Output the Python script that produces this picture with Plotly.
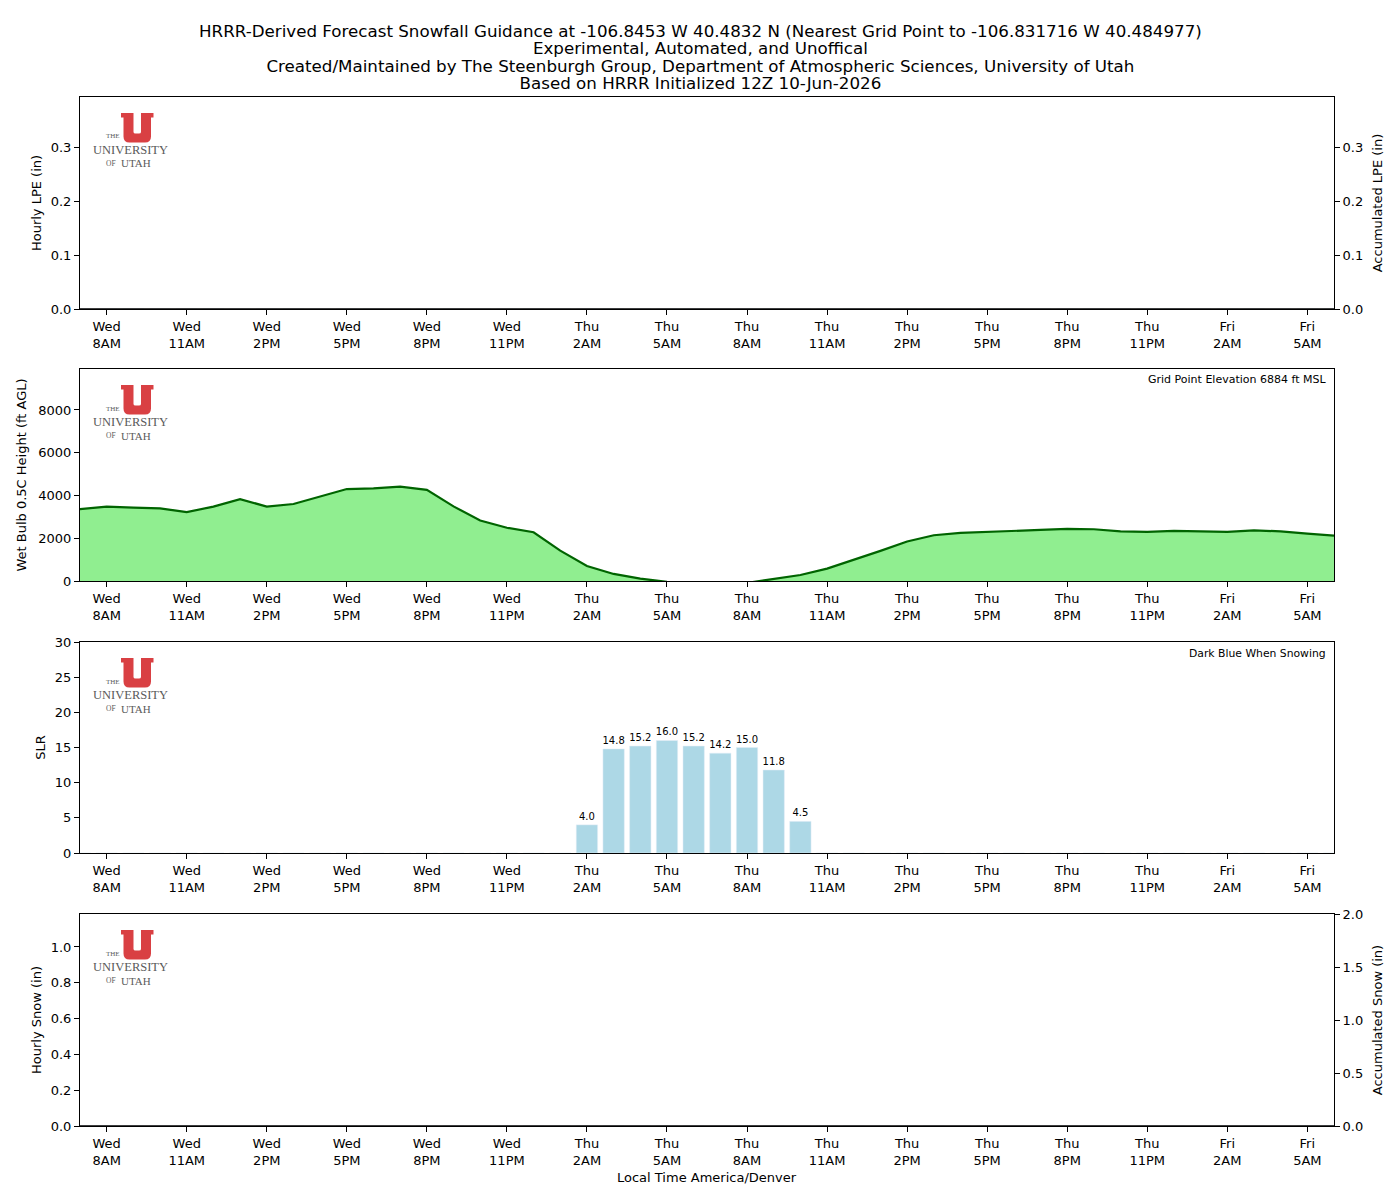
import pandas as pd
import plotly.graph_objects as go

# ---------------- data ----------------
times = pd.date_range("2026-06-10 07:00", periods=48, freq="h")
tick_times = times[1::3]
tick_labels = ["Wed<br>8AM", "Wed<br>11AM", "Wed<br>2PM", "Wed<br>5PM", "Wed<br>8PM", "Wed<br>11PM",
               "Thu<br>2AM", "Thu<br>5AM", "Thu<br>8AM", "Thu<br>11AM", "Thu<br>2PM", "Thu<br>5PM",
               "Thu<br>8PM", "Thu<br>11PM", "Fri<br>2AM", "Fri<br>5AM"]

hourly_lpe = [0.0] * 48
accum_lpe = [0.0] * 48

wetbulb_height = [3360, 3480, 3430, 3400, 3220, 3480, 3830, 3480, 3600, 3950, 4300, 4330, 4410, 4260, 3490, 2830, 2490,
                  2280, 1420, 700, 330, 110, -40, -150, -150, -90, 80, 280, 580, 990, 1410, 1850, 2140, 2250, 2290,
                  2320, 2390, 2440, 2420, 2320, 2300,
                  2340, 2330, 2300, 2370, 2320, 2220, 2120]

slr = [0, 0, 0, 0, 0, 0, 0, 0, 0, 0, 0, 0, 0, 0, 0, 0, 0,
       0, 0, 4.0, 14.8, 15.2, 16.0, 15.2, 14.2, 15.0, 11.8, 4.5, 0, 0, 0, 0, 0, 0, 0, 0, 0, 0, 0, 0, 0,
       0, 0, 0, 0, 0, 0, 0]

hourly_snow = [0.0] * 48
accum_snow = [0.0] * 48

title_lines = [
    "HRRR-Derived Forecast Snowfall Guidance at -106.8453 W 40.4832 N (Nearest Grid Point to -106.831716 W 40.484977)",
    "Experimental, Automated, and Unoffical",
    "Created/Maintained by The Steenburgh Group, Department of Atmospheric Sciences, University of Utah",
    "Based on HRRR Initialized 12Z 10-Jun-2026",
]

# ---------------- layout helpers ----------------
W, H = 1400, 1200
L, R, T, B = 80, 1334, 97, 1126
FONT = "DejaVu Sans"


def px(x):
    return (x - L) / (R - L)


def py(y):
    return (B - y) / (B - T)


panel_tops = [97, 369, 642, 914]
panel_bots = [309, 581, 853, 1126]

fig = go.Figure()

# Panel 1
fig.add_trace(go.Bar(x=times, y=hourly_lpe, xaxis="x", yaxis="y", marker_color="#1f77b4",
                     width=0.8 * 3600 * 1000, showlegend=False))
fig.add_trace(go.Scatter(x=times, y=accum_lpe, xaxis="x", yaxis="y5", mode="lines",
                         line=dict(color="black", width=1.5), showlegend=False))
# Panel 2
fig.add_trace(go.Scatter(x=times, y=wetbulb_height, xaxis="x2", yaxis="y2", mode="lines",
                         fill="tozeroy", fillcolor="#90ee90",
                         line=dict(color="#006400", width=2.2), showlegend=False))
# Panel 3
fig.add_trace(go.Bar(x=times, y=slr, xaxis="x3", yaxis="y3", marker_color="#add8e6",
                     width=0.8 * 3600 * 1000,
                     text=[f"{v:.1f}" if v > 0 else "" for v in slr], textposition="outside",
                     textfont=dict(size=10, color="black", family=FONT), constraintext="none",
                     cliponaxis=False, showlegend=False))
# Panel 4
fig.add_trace(go.Bar(x=times, y=hourly_snow, xaxis="x4", yaxis="y4", marker_color="#1f77b4",
                     width=0.8 * 3600 * 1000, showlegend=False))
fig.add_trace(go.Scatter(x=times, y=accum_snow, xaxis="x4", yaxis="y6", mode="lines",
                         line=dict(color="black", width=1.5), showlegend=False))

x_range = [times[0], times[-1]]
common_x = dict(range=x_range, tickvals=tick_times, ticktext=tick_labels, ticks="outside", ticklen=5,
                tickcolor="black", showline=True, linecolor="black", linewidth=1, mirror=True,
                showgrid=False, zeroline=False, tickfont=dict(size=13, color="black", family=FONT))
common_y = dict(ticks="outside", ticklen=5, tickcolor="black", showline=True, linecolor="black",
                linewidth=1, showgrid=False, zeroline=False,
                tickfont=dict(size=13, color="black", family=FONT))
ttl = dict(size=13, color="black", family=FONT)

doms = [[py(b), py(t)] for t, b in zip(panel_tops, panel_bots)]

layout = dict(
    width=W, height=H, margin=dict(l=L, r=W - R, t=T, b=H - B),
    paper_bgcolor="white", plot_bgcolor="white", font=dict(family=FONT, color="black"),
    barmode="overlay",
    xaxis=dict(common_x, anchor="y", domain=[0, 1]),
    xaxis2=dict(common_x, anchor="y2", domain=[0, 1]),
    xaxis3=dict(common_x, anchor="y3", domain=[0, 1]),
    xaxis4=dict(common_x, anchor="y4", domain=[0, 1]),
    yaxis=dict(common_y, domain=doms[0], anchor="x", range=[0, 0.393], dtick=0.1, tickformat=".1f",
               mirror=True, title=dict(text="Hourly LPE (in)", font=ttl, standoff=6)),
    yaxis5=dict(common_y, overlaying="y", side="right", anchor="x", range=[0, 0.393], dtick=0.1,
                tickformat=".1f", title=dict(text="Accumulated LPE (in)", font=ttl, standoff=10)),
    yaxis2=dict(common_y, domain=doms[1], anchor="x2", range=[0, 9915], dtick=2000, tickformat="d",
                mirror=True, title=dict(text="Wet Bulb 0.5C Height (ft AGL)", font=ttl, standoff=8)),
    yaxis3=dict(common_y, domain=doms[2], anchor="x3", range=[0, 30], dtick=5, mirror=True,
                title=dict(text="SLR", font=ttl, standoff=6)),
    yaxis4=dict(common_y, domain=doms[3], anchor="x4", range=[0, 1.184], dtick=0.2, tickformat=".1f",
                mirror=True, title=dict(text="Hourly Snow (in)", font=ttl, standoff=6)),
    yaxis6=dict(common_y, overlaying="y4", side="right", anchor="x4", range=[0, 2.0], dtick=0.5,
                tickformat=".1f", title=dict(text="Accumulated Snow (in)", font=ttl, standoff=10)),
)
fig.update_layout(**layout)

annotations = []
# Title: one text block; base size sets the tight line pitch, spans set the glyph size
title_text = "<br>".join(f"<span style='font-size:16.7px'>{t}</span>" for t in title_lines)
annotations.append(dict(text=title_text, xref="paper", yref="paper", x=px(700), y=py(57),
                        xanchor="center", yanchor="middle", align="center", showarrow=False,
                        font=dict(size=13.35, color="black", family=FONT)))
# X axis label
annotations.append(dict(text="Local Time America/Denver", xref="paper", yref="paper", x=px(707), y=py(1177),
                        xanchor="center", yanchor="middle", showarrow=False, font=ttl))
# Panel notes
annotations.append(dict(text="Grid Point Elevation 6884 ft MSL", xref="paper", yref="paper", x=px(1328),
                        y=py(380), xanchor="right", yanchor="middle", showarrow=False,
                        font=dict(size=11, color="black", family=FONT)))
annotations.append(dict(text="Dark Blue When Snowing", xref="paper", yref="paper", x=px(1328),
                        y=py(653), xanchor="right", yanchor="middle", showarrow=False,
                        font=dict(size=10.8, color="black", family=FONT)))

shapes = []
grey = "#5a5a5a"
SERIF = "Liberation Serif"
for top in panel_tops:
    o = top + 16

    def P(x, y):
        return f"{px(x):.5f},{py(o + y):.5f}"

    path = (f"M{P(121, 0)} L{P(133.5, 0)} L{P(133.5, 19)} Q{P(133.5, 20.5)} {P(135.5, 20.5)} "
            f"L{P(139, 20.5)} Q{P(141, 20.5)} {P(141, 19)} L{P(141, 0)} L{P(153.5, 0)} "
            f"L{P(153.5, 4.5)} L{P(151, 4.5)} L{P(151, 23.5)} Q{P(151, 29.5)} {P(145, 29.5)} "
            f"L{P(129.5, 29.5)} Q{P(123.5, 29.5)} {P(123.5, 23.5)} L{P(123.5, 4.5)} L{P(121, 4.5)} Z")
    shapes.append(dict(type="path", path=path, xref="paper", yref="paper",
                       fillcolor="#d94043", line=dict(width=0), layer="above"))
    annotations.append(dict(text="THE", xref="paper", yref="paper", x=px(112.5), y=py(o + 23.5),
                            xanchor="center", yanchor="middle", showarrow=False,
                            font=dict(size=7, color=grey, family=SERIF)))
    annotations.append(dict(text="UNIVERSITY", xref="paper", yref="paper", x=px(130), y=py(o + 37),
                            xanchor="center", yanchor="middle", showarrow=False,
                            font=dict(size=12.5, color=grey, family=SERIF)))
    annotations.append(dict(text="OF", xref="paper", yref="paper", x=px(110.5), y=py(o + 50.5),
                            xanchor="center", yanchor="middle", showarrow=False,
                            font=dict(size=7.5, color=grey, family=SERIF)))
    annotations.append(dict(text="UTAH", xref="paper", yref="paper", x=px(135.5), y=py(o + 50.5),
                            xanchor="center", yanchor="middle", showarrow=False,
                            font=dict(size=11, color=grey, family=SERIF)))

fig.update_layout(annotations=annotations, shapes=shapes)
fig.write_html("out.html")
